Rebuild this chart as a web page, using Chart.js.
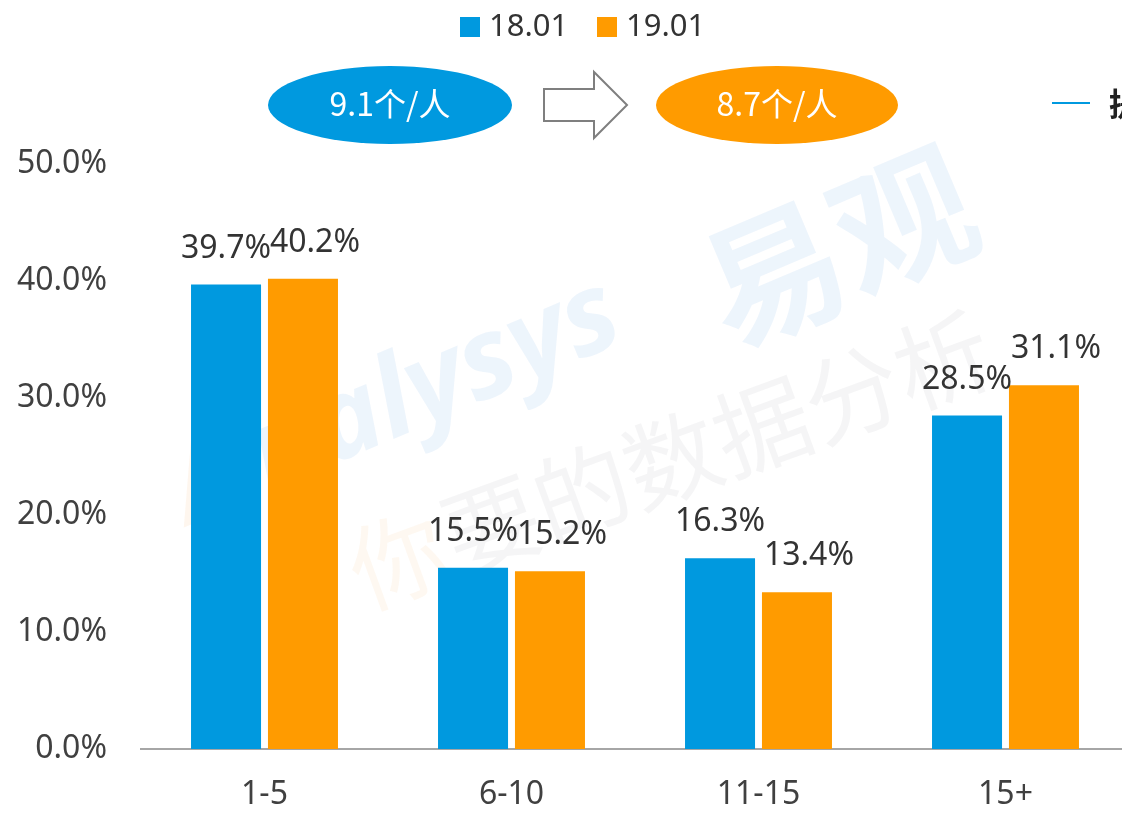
<!DOCTYPE html>
<html>
<head>
<meta charset="utf-8">
<script src="https://cdn.jsdelivr.net/npm/chart.js@4/dist/chart.umd.min.js"></script>
<style>
  html, body { margin: 0; padding: 0; background: #fff; overflow: hidden; }
</style>
</head>
<body>
<canvas id="barChart" width="1130" height="813"></canvas>
<script>
// categorieen en waarden (aandeel in %)
const categories = ['1-5', '6-10', '11-15', '15+'];
const series1Label = '18.01';
const series2Label = '19.01';
const series1 = [39.7, 15.5, 16.3, 28.5];
const series2 = [40.2, 15.2, 13.4, 31.1];
const avgLabels = ['9.1个/人', '8.7个/人'];

const blue = '#0099DF';
const orange = '#FF9B00';
const fontFamily = '"Noto Sans", "Noto Sans CJK SC", sans-serif';

// eigen legenda, ellipsen, pijl en watermerk
const decorPlugin = {
    id: 'decor',
    beforeDatasetsDraw(chart) {
        const c = chart.ctx;
        c.save();
        // watermerk
        c.translate(190, 525);
        c.rotate(-0.4);
        c.font = 'italic bold 112px ' + fontFamily;
        c.fillStyle = 'rgba(240, 140, 40, 0.08)';
        c.fillText('A', 0, 0);
        c.fillStyle = 'rgba(0, 120, 210, 0.07)';
        c.fillText('nalysys', 85, 0);
        c.restore();
        c.save();
        c.translate(730, 350);
        c.rotate(-0.4);
        c.fillStyle = 'rgba(0, 120, 210, 0.07)';
        c.font = 'bold 140px "Noto Sans CJK SC"';
        c.fillText('易观', 0, 0);
        c.restore();
        c.save();
        c.translate(365, 610);
        c.rotate(-0.35);
        c.font = '96px "Noto Sans CJK SC"';
        c.fillStyle = 'rgba(240, 150, 60, 0.07)';
        c.fillText('你', 0, 0);
        c.fillStyle = 'rgba(110, 110, 130, 0.07)';
        c.fillText('要的数据分析', 100, 0);
        c.restore();
    },
    afterDraw(chart) {
        const c = chart.ctx;
        c.save();
        // legenda
        c.font = '31px ' + fontFamily;
        c.textBaseline = 'middle';
        c.fillStyle = blue;
        c.fillRect(460, 17, 20, 20);
        c.fillStyle = '#333';
        c.fillText(series1Label, 489, 27);
        c.fillStyle = orange;
        c.fillRect(597, 17, 20, 20);
        c.fillStyle = '#333';
        c.fillText(series2Label, 626, 27);

        // ellipsen met gemiddelde
        c.fillStyle = blue;
        c.beginPath();
        c.ellipse(390, 105, 122, 39, 0, 0, Math.PI * 2);
        c.fill();
        c.fillStyle = orange;
        c.beginPath();
        c.ellipse(777, 105, 121, 39, 0, 0, Math.PI * 2);
        c.fill();
        c.fillStyle = '#fff';
        c.textAlign = 'center';
        c.font = '32px "Noto Sans CJK SC", sans-serif';
        c.fillText(avgLabels[0], 390, 104);
        c.fillText(avgLabels[1], 777, 104);

        // pijl
        c.strokeStyle = '#7f7f7f';
        c.lineWidth = 2;
        c.beginPath();
        c.moveTo(544, 89);
        c.lineTo(594, 89);
        c.lineTo(594, 72);
        c.lineTo(627, 105);
        c.lineTo(594, 138);
        c.lineTo(594, 121);
        c.lineTo(544, 121);
        c.closePath();
        c.stroke();

        // afgesneden legenda rechts
        c.strokeStyle = blue;
        c.beginPath();
        c.moveTo(1052, 103);
        c.lineTo(1090, 103);
        c.stroke();
        c.fillStyle = '#222';
        c.textAlign = 'left';
        c.font = 'bold 32px "Noto Sans CJK SC", sans-serif';
        c.fillText('提升', 1109, 104);
        c.restore();
    }
};

// waardelabels boven de staven
const valueLabelPlugin = {
    id: 'valueLabels',
    afterDatasetsDraw(chart) {
        const c = chart.ctx;
        c.save();
        c.font = '32px ' + fontFamily;
        c.fillStyle = '#333';
        c.textAlign = 'center';
        c.textBaseline = 'alphabetic';
        chart.data.datasets.forEach((ds, di) => {
            chart.getDatasetMeta(di).data.forEach((bar, i) => {
                const shift = di === 1 ? 12 : 0;
                c.fillText(ds.data[i].toFixed(1) + '%', bar.x + shift, bar.y - 27);
            });
        });
        c.restore();
    }
};

new Chart(document.getElementById('barChart').getContext('2d'), {
    type: 'bar',
    data: {
        labels: categories,
        datasets: [{
            label: series1Label,
            data: series1,
            backgroundColor: blue,
            barPercentage: 0.91,
            categoryPercentage: 0.623
        }, {
            label: series2Label,
            data: series2,
            backgroundColor: orange,
            barPercentage: 0.91,
            categoryPercentage: 0.623
        }]
    },
    options: {
        responsive: false,
        animation: false,
        layout: { padding: { top: 164, left: 0, right: 1, bottom: 0 } },
        plugins: {
            legend: { display: false },
            tooltip: { enabled: false }
        },
        scales: {
            x: {
                grid: { display: false, drawTicks: false },
                border: { display: true, color: '#a6a6a6', width: 2 },
                ticks: {
                    color: '#404040',
                    font: { family: fontFamily, size: 32 },
                    padding: 27
                },
                afterFit(scale) { scale.height = 64; }
            },
            y: {
                min: 0,
                max: 50,
                grid: { display: false, drawTicks: false },
                border: { display: false },
                ticks: {
                    stepSize: 10,
                    color: '#404040',
                    font: { family: fontFamily, size: 32 },
                    padding: 34,
                    callback: v => v.toFixed(1) + '%'
                },
                afterFit(scale) { scale.width = 141; }
            }
        }
    },
    plugins: [decorPlugin, valueLabelPlugin]
});
</script>
</body>
</html>
